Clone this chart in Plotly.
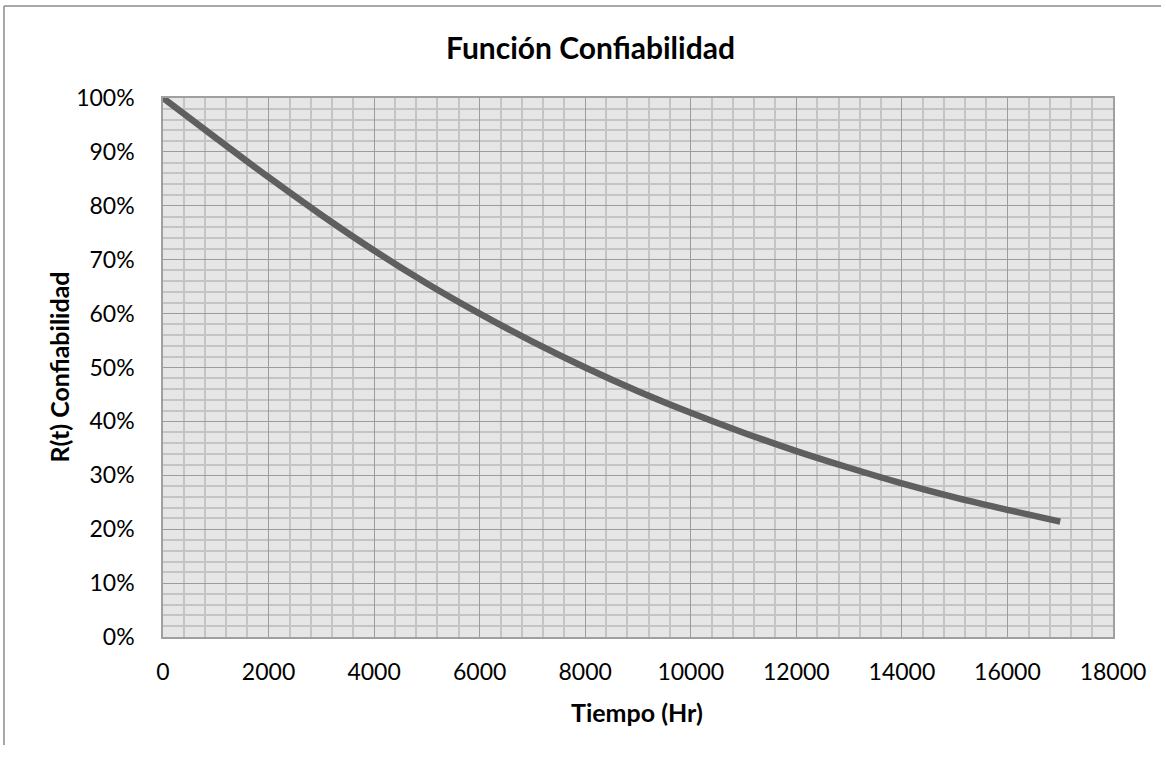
import plotly.graph_objects as go

# Reliability curve R(t), read every 1000 hours
tiempo_hr = [0, 1000, 2000, 3000, 4000, 5000, 6000, 7000, 8000, 9000,
             10000, 11000, 12000, 13000, 14000, 15000, 16000, 17000]
confiabilidad = [1.000, 0.926, 0.853, 0.783, 0.717, 0.656, 0.600, 0.548, 0.500,
                 0.456, 0.416, 0.379, 0.345, 0.314, 0.285, 0.259, 0.236, 0.214]

titulo = "Función Confiabilidad"
titulo_x = "Tiempo (Hr)"
titulo_y = "R(t) Confiabilidad"

FONT = "Lato"

fig = go.Figure()
fig.add_trace(go.Scatter(
    x=tiempo_hr, y=confiabilidad, mode="lines", line_shape="spline",
    line=dict(color="#5f5f5f", width=6.5),
    hoverinfo="x+y", showlegend=False,
))

axis_common = dict(
    showline=True, linecolor="#a0a0a0", linewidth=1.5, mirror=True,
    showgrid=True, gridcolor="#9c9c9c", gridwidth=1,
    zeroline=False, ticks="",
    tickfont=dict(family=FONT, size=23, color="#000000"),
)

fig.update_xaxes(
    range=[0, 18000], dtick=2000, tick0=0, tickformat="d", ticklabelstandoff=14,
    minor=dict(dtick=400, showgrid=True, gridcolor="#c4c4c4", gridwidth=1.5),
    **axis_common,
)
fig.update_yaxes(
    range=[0, 1], dtick=0.1, tick0=0, tickformat=".0%", ticklabelstandoff=22,
    minor=dict(dtick=0.02, showgrid=True, gridcolor="#c4c4c4", gridwidth=1.5),
    **axis_common,
)

fig.update_layout(
    width=1166, height=757,
    margin=dict(l=163, r=53, t=98, b=120),
    paper_bgcolor="#ffffff", plot_bgcolor="#e6e6e6",
    annotations=[
        dict(text=f"<b>{titulo}</b>", x=0.4495, y=1.0946, xref="paper", yref="paper",
             showarrow=False, xanchor="center", yanchor="middle",
             font=dict(family=FONT, size=30, color="#000000")),
        dict(text=f"<b>{titulo_x}</b>", x=0.499, y=-0.139, xref="paper", yref="paper",
             showarrow=False, xanchor="center", yanchor="middle",
             font=dict(family=FONT, size=25, color="#000000")),
        dict(text=f"<b>{titulo_y}</b>", x=-0.1105, y=0.5, xref="paper", yref="paper",
             showarrow=False, xanchor="center", yanchor="middle", textangle=-90,
             font=dict(family=FONT, size=25, color="#000000")),
    ],
    shapes=[
        # chart-area frame (top and left edges)
        dict(type="line", xref="paper", yref="paper", x0=-0.1674, x1=1.0505,
             y0=1.1707, y1=1.1707, line=dict(color="#8c8c8c", width=1.5)),
        dict(type="line", xref="paper", yref="paper", x0=-0.1674, x1=-0.1674,
             y0=1.1707, y1=-0.2004, line=dict(color="#8c8c8c", width=1.5)),
    ],
)

fig.write_html("out.html")
